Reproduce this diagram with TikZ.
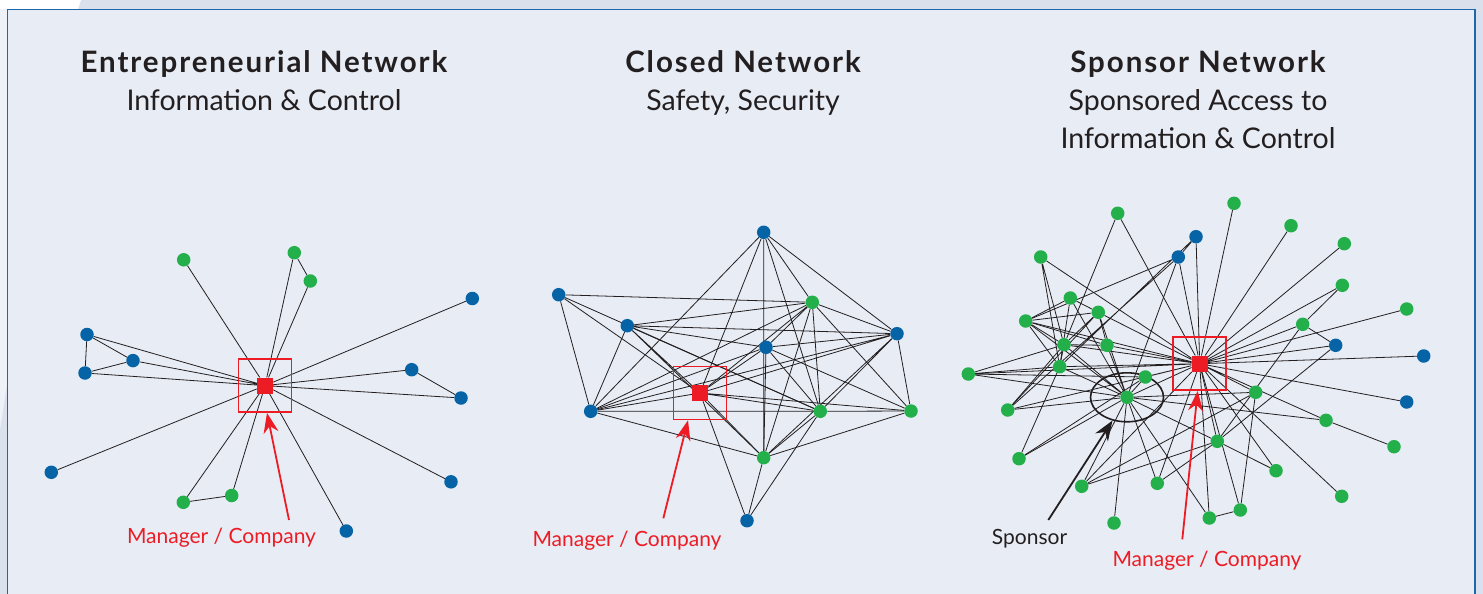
\documentclass[tikz,border=0pt]{standalone}
\usepackage{fontspec}
\setmainfont{Lato}
\newfontfamily\headfont[LetterSpace=6.5]{Lato}
\usetikzlibrary{arrows.meta,backgrounds,shapes}
\definecolor{netblue}{HTML}{0563A6}
\definecolor{netgreen}{HTML}{23B04B}
\definecolor{netred}{HTML}{ED1C24}
\definecolor{panelbg}{HTML}{E7ECF5}
\definecolor{outerbg}{HTML}{DAE1EC}
\definecolor{frameblue}{HTML}{1D68AC}
\definecolor{ink}{HTML}{231F20}
\pgfdeclarelayer{edges}
\pgfsetlayers{background,edges,main}
\tikzset{
  bluenode/.style={circle,fill=netblue,inner sep=0pt,minimum size=13.5pt},
  greennode/.style={circle,fill=netgreen,inner sep=0pt,minimum size=13.5pt},
  hub/.style={rectangle,fill=netred,inner sep=0pt,minimum size=16pt},
  hubbox/.style={rectangle,draw=netred,line width=1.6pt,inner sep=0pt,minimum size=53pt},
  heading/.style={align=center,inner sep=0pt,anchor=north,text=ink,font=\fontsize{28.5}{38}\selectfont},
  tag/.style={anchor=base,inner sep=0pt,text=netred,font=\fontsize{21}{25}\selectfont},
  link/.style={draw=ink,line width=0.8pt},
  pointer/.style={line width=1.8pt,arrows={-Stealth[length=20pt,width=15pt]}}
}
\newcommand{\headline}[1]{{\headfont\bfseries\fontsize{29.5}{38}\selectfont #1}}
\begin{document}
\begin{tikzpicture}[x=1pt,y=-1pt]
    \useasboundingbox (0,0) rectangle (1483,594);

    % frame and background
    \begin{pgfonlayer}{background}
    \fill[outerbg] (0,0) rectangle (1483,594);
    \fill[white] (0,0) -- (81,0) -- (78,9) -- (0,9) -- cycle;
    \fill[panelbg!70!white] (0,9) rectangle (7,594);
    \fill[outerbg] (0,430) -- (7,385) -- (7,594) -- (0,594) -- cycle;
    \filldraw[fill=panelbg,draw=frameblue,line width=1.8pt] (7.5,9.5) -- (1475,9.5) -- (1475,600) -- (7.5,600) -- cycle;
    \end{pgfonlayer}

    % headings
    \node[heading](head1) at (264,50){\headline{Entrepreneurial Network}\\Information \& Control};
    \node[heading](head2) at (743,50){\headline{Closed Network}\\Safety, Security};
    \node[heading](head3) at (1198,50){\headline{Sponsor Network}\\Sponsored Access to\\Information \& Control};

    % entrepreneurial network
    \node[hub](ec) at (265,385.6){};
    \node[hubbox](ebox) at (ec){};
    \node[greennode](eg1) at (183.7,259.8){};
    \node[greennode](eg2) at (294.3,252.7){};
    \node[greennode](eg3) at (310.3,281){};
    \node[bluenode](eb1) at (472.3,298.5){};
    \node[bluenode](eb2) at (87,334.5){};
    \node[bluenode](eb3) at (133,360.6){};
    \node[bluenode](eb4) at (85,373){};
    \node[bluenode](eb5) at (411.7,369.7){};
    \node[bluenode](eb6) at (461,398){};
    \node[bluenode](eb7) at (51.3,472.3){};
    \node[bluenode](eb8) at (451,481.8){};
    \node[greennode](eg4) at (183.3,502.3){};
    \node[greennode](eg5) at (231.7,495.5){};
    \node[bluenode](eb9) at (346.3,531){};

    \node[tag](etag) at (221.5,543){Manager / Company};
    \coordinate (etail) at (289,520);

    \begin{pgfonlayer}{edges}
    \draw[link] (ec) -- (eg1) (ec) -- (eg2) (ec) -- (eg3) (eg2) -- (eg3);
    \draw[link] (ec) -- (eb1) (ec) -- (eb2) (ec) -- (eb3) (ec) -- (eb4);
    \draw[link] (eb2) -- (eb3) (eb2) -- (eb4) (eb3) -- (eb4);
    \draw[link] (ec) -- (eb5) (ec) -- (eb6) (eb5) -- (eb6);
    \draw[link] (ec) -- (eb7) (ec) -- (eb8) (ec) -- (eb9);
    \draw[link] (ec) -- (eg4) (ec) -- (eg5) (eg4) -- (eg5);
    \end{pgfonlayer}
    \draw[pointer,netred](etail) -- ([xshift=2pt]ebox.south);

    % closed network
    \node[hub](cc) at (700,393){};
    \node[hubbox](cbox) at (cc){};
    \node[bluenode](ct) at (763.7,232.3){};
    \node[bluenode](cl1) at (558.7,294.7){};
    \node[bluenode](cl2) at (627.3,325.7){};
    \node[greennode](cg1) at (812.3,302.3){};
    \node[bluenode](cr1) at (897,333.7){};
    \node[bluenode](cm) at (766,347.3){};
    \node[bluenode](cl3) at (590.7,411.3){};
    \node[greennode](cg2) at (820.3,411.3){};
    \node[greennode](cg3) at (911,411){};
    \node[greennode](cg4) at (763.7,457.7){};
    \node[bluenode](cb) at (747,520.7){};

    \node[tag](ctag) at (627,546){Manager / Company};
    \coordinate (ctail) at (663.3,518.3);

    \begin{pgfonlayer}{edges}
    \draw[link] (ct) -- (cl3) (ct) -- (cc) (ct) -- (cg4) (ct) -- (cg2) (ct) -- (cg1) (ct) -- (cr1);
    \draw[link] (cl1) -- (cg1) (cl1) -- (cc) (cl1) -- (cl3) (cl1) -- (cg2);
    \draw[link] (cl2) -- (cg1) (cl2) -- (cr1) (cl2) -- (cm) (cl2) -- (cl3) (cl2) -- (cc) (cl2) -- (cg4) (cl2) -- (cg2);
    \draw[link] (cg1) -- (cc) (cg1) -- (cm) (cg1) -- (cg2) (cg1) -- (cg3) (cg1) -- (cr1) (cg1) -- (cg4) (cg1) -- (cl3);
    \draw[link] (cr1) -- (cm) (cr1) -- (cc) (cr1) -- (cl3) (cr1) -- (cg2) (cr1) -- (cg3) (cr1) -- (cg4);
    \draw[link] (cm) -- (cg4) (cm) -- (cg2) (cm) -- (cg3) (cm) -- (cc) (cm) -- (cl3);
    \draw[link] (cc) -- (cl3) (cc) -- (cg2) (cc) -- (cg3) (cc) -- (cg4) (cc) -- (cb);
    \draw[link] (cl3) -- (cg2) (cl3) -- (cg4) (cg2) -- (cg3) (cg2) -- (cg4) (cg2) -- (cb);
    \draw[link] (cg3) -- (cg4) (cg4) -- (cb);
    \end{pgfonlayer}
    \draw[pointer,netred](ctail) -- ([xshift=-12pt]cbox.south);

    % sponsor network
    \node[hub](sc) at (1199.7,363.7){};
    \node[hubbox](sbox) at (sc){};
    \node[greennode](sp) at (1127,397.3){};
    \node[ellipse,draw=ink,line width=1.6pt,minimum width=73pt,minimum height=49pt](sring) at (sp){};
    \node[greennode](s1) at (1117.7,213.3){};
    \node[greennode](s2) at (1234,203.3){};
    \node[bluenode](s3) at (1196,236.7){};
    \node[bluenode](s4) at (1178.3,257){};
    \node[greennode](s5) at (1040.7,257){};
    \node[greennode](s6) at (1070.3,298){};
    \node[greennode](s7) at (1098.3,312.3){};
    \node[greennode](s8) at (1025.7,321){};
    \node[greennode](s9) at (1064,344.7){};
    \node[greennode](s10) at (1107,345.3){};
    \node[greennode](s11) at (1059.7,366.7){};
    \node[greennode](s12) at (968.3,374){};
    \node[greennode](s13) at (1145.3,377){};
    \node[greennode](s14) at (1007.7,410){};
    \node[greennode](s15) at (1291,225.7){};
    \node[greennode](s16) at (1344.3,243.7){};
    \node[greennode](s17) at (1342.3,285.3){};
    \node[greennode](s18) at (1406.7,309){};
    \node[greennode](s19) at (1302.7,324.3){};
    \node[bluenode](s20) at (1335.7,345.3){};
    \node[bluenode](s21) at (1423.7,356){};
    \node[greennode](s22) at (1255.7,392.3){};
    \node[bluenode](s23) at (1406.7,402){};
    \node[greennode](s24) at (1326,420.3){};
    \node[greennode](s25) at (1394,446.7){};
    \node[greennode](s26) at (1217.3,441.3){};
    \node[greennode](s27) at (1276,470.7){};
    \node[greennode](s28) at (1341.7,496.3){};
    \node[greennode](s29) at (1157.3,483.3){};
    \node[greennode](s30) at (1209.3,518){};
    \node[greennode](s31) at (1240.3,510){};
    \node[greennode](s32) at (1019,458.7){};
    \node[greennode](s33) at (1081.7,486.3){};
    \node[greennode](s34) at (1114,523){};

    \node[anchor=base,inner sep=0pt,text=ink,font=\fontsize{21}{25}\selectfont](stag) at (1029.5,544){Sponsor};
    \node[tag](mtag) at (1207,566){Manager / Company};
    \coordinate (stail) at (1048.3,520);
    \coordinate (mtail) at (1182.3,539.3);

    \begin{pgfonlayer}{edges}
    % manager links
    \draw[link] (sc) -- (s1) (sc) -- (s2) (sc) -- (s3) (sc) -- (s4) (sc) -- (s5) (sc) -- (s7) (sc) -- (s8);
    \draw[link] (sc) -- (s9) (sc) -- (s10) (sc) -- (s11) (sc) -- (s12) (sc) -- (s13) (sc) -- (s14);
    \draw[link] (sc) -- (s15) (sc) -- (s16) (sc) -- (s17) (sc) -- (s18) (sc) -- (s19) (sc) -- (s20);
    \draw[link] (sc) -- (s21) (sc) -- (s22) (sc) -- (s23) (sc) -- (s24) (sc) -- (s26) (sc) -- (s27);
    \draw[link] (sc) -- (s28) (sc) -- (s29) (sc) -- (s30) (sc) -- (s31) (sc) -- (s33) (sc) -- (sp);
    % sponsor links
    \draw[link] (sp) -- (s4) (sp) -- (s6) (sp) -- (s7) (sp) -- (s8) (sp) -- (s9) (sp) -- (s10);
    \draw[link] (sp) -- (s11) (sp) -- (s12) (sp) -- (s13) (sp) -- (s14) (sp) -- (s32) (sp) -- (s33);
    \draw[link] (sp) -- (s34) (sp) -- (s29) (sp) -- (s30) (sp) -- (s26) (sp) -- (s24) (sp) -- (s22);
    % other links
    \draw[link] (s1) -- (s9) (s5) -- (s9) (s5) -- (s11) (s3) -- (s4) (s3) -- (s11) (s4) -- (s8) (s4) -- (s14);
    \draw[link] (s6) -- (s7) (s6) -- (s8) (s6) -- (s11) (s7) -- (s8) (s7) -- (s9) (s7) -- (s10) (s7) -- (s14);
    \draw[link] (s8) -- (s9) (s8) -- (s10) (s8) -- (s11) (s9) -- (s11) (s9) -- (s10) (s9) -- (s14);
    \draw[link] (s11) -- (s12) (s11) -- (s32) (s12) -- (s9) (s12) -- (s13) (s32) -- (s13);
    \draw[link] (s17) -- (s19) (s19) -- (s20) (s19) -- (s26) (s20) -- (s26) (s24) -- (s25);
    \draw[link] (s26) -- (s27) (s26) -- (s33) (s26) -- (s29) (s30) -- (s31) (s22) -- (s31) (s22) -- (s33);
    \end{pgfonlayer}
    \draw[pointer,ink](stail) -- (sring.238);
    \draw[pointer,netred](mtail) -- ([xshift=-2pt]sbox.south);
\end{tikzpicture}
\end{document}
